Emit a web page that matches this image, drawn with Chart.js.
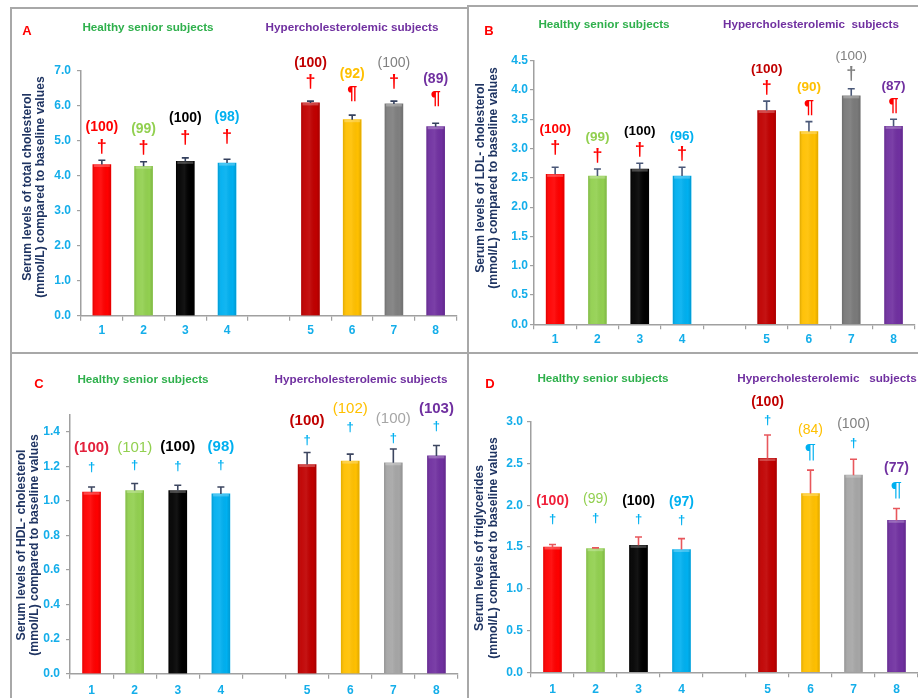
<!DOCTYPE html>
<html>
<head>
<meta charset="utf-8">
<script src="https://cdn.jsdelivr.net/npm/chart.js@4.4.1/dist/chart.umd.min.js"></script>
<style>
  html, body { margin: 0; padding: 0; background: #fff; }
  body { width: 918px; height: 698px; position: relative; overflow: hidden;
         font-family: "Liberation Sans", Arial, sans-serif; }
  canvas { position: absolute; }
  .rule { position: absolute; background: #a8a8a8; }
  .txt { position: absolute; white-space: nowrap; transform: translate(-50%, -50%); font-weight: bold; }
  .ytitle { position: absolute; white-space: nowrap; font-weight: bold; color: #1f3462;
            transform: translate(-50%, -50%) rotate(-90deg); }
</style>
</head>
<body>
<script>
// ---- data -----------------------------------------------------------------
const groups = ['1', '2', '3', '4', '5', '6', '7', '8'];

const totalChol    = [4.32, 4.27, 4.41, 4.36, 6.08, 5.60, 6.05, 5.40];
const totalCholErr = [0.12, 0.13, 0.10, 0.11, 0.05, 0.13, 0.08, 0.10];
const totalCholPct = [100, 99, 100, 98, 100, 92, 100, 89];
const totalCholSig = ['†', '†', '†', '†', '†', '¶', '†', '¶'];

const ldlChol    = [2.56, 2.53, 2.65, 2.53, 3.65, 3.29, 3.90, 3.38];
const ldlCholErr = [0.12, 0.12, 0.10, 0.15, 0.16, 0.17, 0.12, 0.12];
const ldlCholPct = [100, 99, 100, 96, 100, 90, 100, 87];
const ldlCholSig = ['†', '†', '†', '†', '†', '¶', '†', '¶'];

const hdlChol    = [1.05, 1.06, 1.06, 1.04, 1.21, 1.23, 1.22, 1.26];
const hdlCholErr = [0.03, 0.04, 0.03, 0.04, 0.07, 0.04, 0.08, 0.06];
const hdlCholPct = [100, 101, 100, 98, 100, 102, 100, 103];
const hdlCholSig = ['†', '†', '†', '†', '†', '†', '†', '†'];

const trig    = [1.50, 1.48, 1.52, 1.47, 2.56, 2.14, 2.36, 1.82];
const trigErr = [0.03, 0.01, 0.10, 0.13, 0.28, 0.28, 0.19, 0.14];
const trigPct = [100, 99, 100, 97, 100, 84, 100, 77];
const trigSig = ['†', '†', '†', '†', '†', '¶', '†', '¶'];

// ---- styling ----------------------------------------------------------------
const GREEN_HDR = '#2fb04c';
const PURPLE_HDR = '#7030a0';
const TICK_BLUE = '#14aeea';
const AXIS_GREY = '#a0a0a0';
const HDR_SIZE = 11.7;
const YTITLE_SIZE = 12.2;

function barColors(grey) {
  return ['#ff0000', '#92d050', '#000000', '#00b0f0', '#c00000', '#ffc000', grey, '#7030a0'];
}

// one empty slot separates the two subject groups on the x axis
function toSlots(arr, gap) { return [...arr.slice(0, 4), gap, ...arr.slice(4)]; }

const panels = [
  {
    letter: 'A', letterPos: [27, 30],
    box: { x: 11, y: 8, w: 457, h: 345 },
    area: { left: 81, right: 456.5, top: 70.7, bottom: 315.7 },
    max: 7, step: 1, yPad: 6,
    values: totalChol, errors: totalCholErr, pct: totalCholPct, sig: totalCholSig,
    headers: [[148, 26, 'Healthy senior subjects'], [352, 26, 'Hypercholesterolemic subjects']],
    ytitle: [[27, 187, 'Serum levels of total cholesterol'], [39.5, 187, '(mmol/L) compared to baseline values']],
    grey: '#7f7f7f', errColor: '#34405e',
    pctColors: ['#ff0000', '#92d050', '#000000', '#00b0f0', '#c00000', '#ffc000', '#808080', '#7030a0'],
    pctBold:   [1, 1, 1, 1, 1, 1, 0, 1],
    pctFont: '14px "Liberation Sans", Arial, sans-serif',
    sigColors: ['#ff0000', '#ff0000', '#ff0000', '#ff0000', '#ff0000', '#ff0000', '#ff0000', '#ff0000'],
    sigFont: { '†': 'bold 18px "Liberation Sans", Arial', '¶': 'bold 18px "Liberation Sans", Arial' },
    sigOff: [13, 14, 20, 22, 19, 21, 19, 24],
    pctOff: [33, 33, 40, 42, 38, 41, 38, 44],
    xLabelGap: 15
  },
  {
    letter: 'B', letterPos: [489, 30],
    box: { x: 468, y: 6, w: 450, h: 347 },
    area: { left: 534, right: 914.7, top: 60.7, bottom: 324.3 },
    max: 4.5, step: 0.5, yPad: 2,
    values: ldlChol, errors: ldlCholErr, pct: ldlCholPct, sig: ldlCholSig,
    headers: [[604, 23, 'Healthy senior subjects'], [811, 23, 'Hypercholesterolemic\u00a0 subjects']],
    ytitle: [[480, 178, 'Serum levels of LDL- cholesterol'], [493, 178, '(mmol/L) compared to baseline values']],
    grey: '#7a7a7a', errColor: '#4a5878',
    pctColors: ['#ff0000', '#92d050', '#000000', '#00b0f0', '#c00000', '#ffc000', '#808080', '#7030a0'],
    pctBold:   [1, 1, 1, 1, 1, 1, 0, 1],
    pctFont: '13.5px "Liberation Sans", Arial, sans-serif',
    sigColors: ['#ff0000', '#ff0000', '#ff0000', '#ff0000', '#ff0000', '#ff0000', '#808080', '#ff0000'],
    sigFont: { '†': 'bold 18px "Liberation Sans", Arial', '¶': 'bold 18px "Liberation Sans", Arial' },
    sigOff: [19, 13, 13, 13, 13, 14, 15, 13],
    pctOff: [38, 32, 32, 31, 32, 34, 33, 33],
    xLabelGap: 15
  },
  {
    letter: 'C', letterPos: [39, 383],
    box: { x: 11, y: 353, w: 457, h: 345 },
    area: { left: 70, right: 458, top: 414.4, bottom: 673.7 },
    max: 1.5, step: 0.2, yPad: 6,
    values: hdlChol, errors: hdlCholErr, pct: hdlCholPct, sig: hdlCholSig,
    headers: [[143, 378, 'Healthy senior subjects'], [361, 378, 'Hypercholesterolemic subjects']],
    ytitle: [[20.5, 545, 'Serum levels of HDL- cholesterol'], [33.5, 545, '(mmol/L) compared to baseline values']],
    grey: '#a6a6a6', errColor: '#3c4660',
    pctColors: ['#e3213c', '#92d050', '#000000', '#00b0f0', '#c00000', '#ffc000', '#a6a6a6', '#7030a0'],
    pctBold:   [1, 0, 1, 1, 1, 0, 0, 1],
    pctFont: '15px "Liberation Sans Narrow", "Liberation Sans", Arial, sans-serif',
    sigColors: ['#00b0f0', '#00b0f0', '#00b0f0', '#00b0f0', '#00b0f0', '#00b0f0', '#00b0f0', '#00b0f0'],
    sigFont: { '†': 'bold 13px "Liberation Sans", Arial', '¶': 'bold 15px "Liberation Sans", Arial' },
    sigOff: [20, 18, 19, 22, 12, 27, 11, 19],
    pctOff: [39, 36, 38, 40, 32, 45, 30, 37],
    xLabelGap: 17
  },
  {
    letter: 'D', letterPos: [490, 383],
    box: { x: 468, y: 353, w: 450, h: 345 },
    area: { left: 531, right: 918, top: 421.7, bottom: 672.3 },
    max: 3.0, step: 0.5, yPad: 4,
    values: trig, errors: trigErr, pct: trigPct, sig: trigSig,
    headers: [[603, 377, 'Healthy senior subjects'], [827, 377, 'Hypercholesterolemic\u00a0\u00a0 subjects']],
    ytitle: [[478.5, 548, 'Serum levels of triglycerides'], [493, 548, '(mmol/L) compared to baseline values']],
    grey: '#a6a6a6', errColor: '#e8575c',
    pctColors: ['#f0203a', '#92d050', '#000000', '#00b0f0', '#c00000', '#ffc000', '#808080', '#7030a0'],
    pctBold:   [1, 0, 1, 1, 1, 0, 0, 1],
    pctFont: '14px "Liberation Sans", Arial, sans-serif',
    sigColors: ['#00b0f0', '#00b0f0', '#00b0f0', '#00b0f0', '#00b0f0', '#00b0f0', '#00b0f0', '#00b0f0'],
    sigFont: { '†': 'bold 13px "Liberation Sans", Arial', '¶': '21px "Liberation Sans Narrow", "Liberation Sans", Arial' },
    sigOff: [25, 29, 18, 18, 15, 18, 16, 18],
    pctOff: [43, 49, 36, 37, 33, 40, 35, 40],
    xLabelGap: 17
  }
];

// ---- panel frames -------------------------------------------------------------
function rule(x, y, w, h) {
  const d = document.createElement('div');
  d.className = 'rule';
  Object.assign(d.style, { left: x + 'px', top: y + 'px', width: w + 'px', height: h + 'px' });
  document.body.appendChild(d);
}
rule(10, 7, 458, 2);      // top of A
rule(467, 5, 451, 2);     // top of B
rule(10, 7, 2, 691);      // left of A / C
rule(467, 5, 2, 693);     // divider between columns
rule(10, 352, 908, 2);    // divider between rows

function text(x, y, str, color, size, cls) {
  const d = document.createElement('div');
  d.className = cls || 'txt';
  d.textContent = str;
  Object.assign(d.style, { left: x + 'px', top: y + 'px', color: color, fontSize: size + 'px' });
  document.body.appendChild(d);
  return d;
}

// ---- bar shading: soft edges and a lighter top cap ---------------------------------
const barShade = {
  id: 'barShade',
  afterDatasetsDraw(chart) {
    const meta = chart.getDatasetMeta(0);
    const ds = chart.data.datasets[0];
    const ctx = chart.ctx;
    ctx.save();
    meta.data.forEach((bar, i) => {
      if (ds.data[i] == null) return;
      const w = bar.width, x0 = bar.x - w / 2, h = bar.base - bar.y;
      const g = ctx.createLinearGradient(x0, 0, x0 + w, 0);
      g.addColorStop(0, 'rgba(0,0,0,0.12)');
      g.addColorStop(0.18, 'rgba(255,255,255,0.04)');
      g.addColorStop(0.45, 'rgba(255,255,255,0.08)');
      g.addColorStop(0.82, 'rgba(0,0,0,0.0)');
      g.addColorStop(1, 'rgba(0,0,0,0.12)');
      ctx.fillStyle = g;
      ctx.fillRect(x0, bar.y, w, h);
      ctx.fillStyle = 'rgba(255,255,255,0.25)';
      ctx.fillRect(x0 + 1, bar.y, w - 2, 2.5);
    });
    ctx.restore();
  }
};

// ---- error bars and significance marks -------------------------------------------
const errorBars = {
  id: 'errorBars',
  afterDatasetsDraw(chart) {
    const p = chart.config.options.panel;
    const ds = chart.data.datasets[0];
    const meta = chart.getDatasetMeta(0);
    const ys = chart.scales.y;
    const ctx = chart.ctx;
    ctx.save();
    ctx.strokeStyle = p.errColor;
    ctx.lineWidth = 1.6;
    meta.data.forEach((bar, i) => {
      const v = ds.data[i];
      if (v == null) return;
      const top = ys.getPixelForValue(v + ds.errors[i]);
      ctx.beginPath();
      ctx.moveTo(bar.x, bar.y);
      ctx.lineTo(bar.x, top);
      ctx.moveTo(bar.x - 3.5, top);
      ctx.lineTo(bar.x + 3.5, top);
      ctx.stroke();
    });
    ctx.restore();
  }
};

const marks = {
  id: 'marks',
  afterDraw(chart) {
    const p = chart.config.options.panel;
    const ds = chart.data.datasets[0];
    const meta = chart.getDatasetMeta(0);
    const ys = chart.scales.y;
    const ctx = chart.ctx;
    ctx.save();
    ctx.textAlign = 'center';
    ctx.textBaseline = 'middle';
    let k = 0;
    meta.data.forEach((bar, i) => {
      const v = ds.data[i];
      if (v == null) return;
      const top = ys.getPixelForValue(v + ds.errors[i]);
      ctx.font = (p.pctBold[k] ? 'bold ' : '') + p.pctFont;
      ctx.fillStyle = p.pctColors[k];
      ctx.fillText('(' + p.pct[k] + ')', bar.x, top - p.pctOff[k]);
      ctx.font = p.sigFont[p.sig[k]];
      ctx.fillStyle = p.sigColors[k];
      ctx.fillText(p.sig[k], bar.x, top - p.sigOff[k]);
      k++;
    });
    ctx.restore();
  }
};

// ---- charts ------------------------------------------------------------------------
panels.forEach(p => {
  const cv = document.createElement('canvas');
  cv.width = p.box.w;
  cv.height = p.box.h;
  Object.assign(cv.style, { left: p.box.x + 'px', top: p.box.y + 'px', width: p.box.w + 'px', height: p.box.h + 'px' });
  document.body.appendChild(cv);

  const left = p.area.left - p.box.x;
  const top = p.area.top - p.box.y;
  const right = p.box.w - (p.area.right - p.box.x);
  const xHeight = p.box.h - (p.area.bottom - p.box.y);
  const tickFont = { family: '"Liberation Sans", Arial, sans-serif', size: 12, weight: 'bold' };

  new Chart(cv, {
    type: 'bar',
    data: {
      labels: toSlots(groups, ''),
      datasets: [{
        data: toSlots(p.values, null),
        errors: toSlots(p.errors, null),
        backgroundColor: toSlots(barColors(p.grey), 'rgba(0,0,0,0)'),
        borderWidth: 0,
        barThickness: 18
      }]
    },
    options: {
      panel: p,
      responsive: false,
      animation: false,
      devicePixelRatio: 1,
      layout: { padding: { top: top, right: right, left: 0, bottom: 0 } },
      plugins: { legend: { display: false }, tooltip: { enabled: false } },
      scales: {
        x: {
          grid: { offset: true, drawOnChartArea: false, drawTicks: true, tickLength: 5, color: AXIS_GREY, lineWidth: 1.2 },
          border: { color: AXIS_GREY, width: 1.5 },
          ticks: { color: TICK_BLUE, font: tickFont, padding: p.xLabelGap - 12, maxRotation: 0, autoSkip: false },
          afterFit(s) { s.height = xHeight; }
        },
        y: {
          min: 0, max: p.max,
          grid: { drawOnChartArea: false, drawTicks: true, tickLength: 4, color: AXIS_GREY, lineWidth: 1.2 },
          border: { color: AXIS_GREY, width: 1.5 },
          ticks: { stepSize: p.step, includeBounds: false, color: TICK_BLUE, font: tickFont, padding: p.yPad,
                   callback: v => Number(v).toFixed(1) },
          afterFit(s) { s.width = left; }
        }
      }
    },
    plugins: [barShade, errorBars, marks]
  });

  // panel letter, group headers and axis title
  text(p.letterPos[0], p.letterPos[1], p.letter, '#ff0000', 13);
  text(p.headers[0][0], p.headers[0][1], p.headers[0][2], GREEN_HDR, HDR_SIZE);
  text(p.headers[1][0], p.headers[1][1], p.headers[1][2], PURPLE_HDR, HDR_SIZE);
  p.ytitle.forEach(t => text(t[0], t[1], t[2], '#1f3462', YTITLE_SIZE, 'ytitle'));
});
</script>
</body>
</html>
